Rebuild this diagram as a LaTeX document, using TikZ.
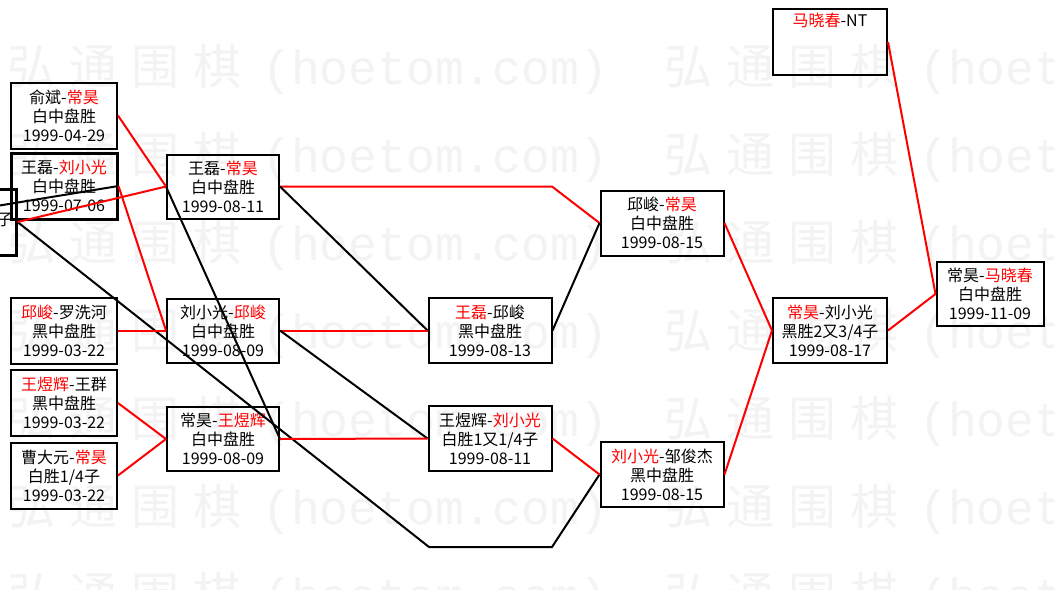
\documentclass[tikz,border=0pt]{standalone}
\usepackage{fontspec}
\setmainfont{Noto Sans CJK SC}
\newfontfamily\wmcjk{Noto Sans CJK SC}
\newfontfamily\wmmono{Liberation Mono}
\usetikzlibrary{positioning}
\definecolor{hot}{HTML}{FF0000}
\definecolor{ink}{HTML}{000000}
\definecolor{wm}{HTML}{F3F3F3}
\newcommand{\win}[1]{\textcolor{hot}{#1}}
\newcommand{\wmrow}{{\wmcjk\makebox[62pt]{弘}\makebox[62pt]{通}\makebox[62pt]{围}\makebox[62pt]{棋}}\hspace{14pt}{\wmmono (hoetom.com)}}
\tikzset{
  box/.style={draw=ink, line width=2pt, align=center, inner sep=0pt,
              font=\fontsize{16}{19}\selectfont, text=ink},
  heavybox/.style={line width=3pt},
  col1/.style={box, minimum width=106pt, minimum height=66pt},
  col2/.style={box, minimum width=112pt, minimum height=64pt},
  col3/.style={box, minimum width=123pt, minimum height=65pt},
  col5/.style={box, minimum width=114pt, minimum height=65pt},
  col6/.style={box, minimum width=107pt, minimum height=64pt},
  ln/.style={draw=ink, line width=2pt},
  lnred/.style={draw=hot, line width=2pt},
  wmark/.style={text=wm, inner sep=0pt, font=\fontsize{48}{48}\selectfont}
}
\begin{document}
\begin{tikzpicture}[x=1pt,y=-1pt]
  \useasboundingbox (0,0) rectangle (1054,589);
  \fill[white] (0,0) rectangle (1054,589);
  \clip (0,0) rectangle (1054,589);

  \foreach \r in {0,...,6}
    \foreach \k in {0,1}
      \node[wmark, anchor=base west] (wm-\r-\k) at (657*\k, 84+88*\r) {\wmrow};

  \node[col1, heavybox, text width=100pt, align=right] (r1x) at (-37,222) {\strut\\子\\\strut};
  \node[col1] (r1a) at (64,115.5) {俞斌-\win{常昊}\\白中盘胜\\1999-04-29};
  \node[col1, heavybox] (r1b) at (64,186) {王磊-\win{刘小光}\\白中盘胜\\1999-07-06};
  \node[col1] (r1c) at (64,330.5) {\win{邱峻}-罗洗河\\黑中盘胜\\1999-03-22};
  \node[col1] (r1d) at (64,403) {\win{王煜辉}-王群\\黑中盘胜\\1999-03-22};
  \node[col1] (r1e) at (64,475.5) {曹大元-\win{常昊}\\白胜1/4子\\1999-03-22};

  \node[col2] (r2a) at (223,186.5) {王磊-\win{常昊}\\白中盘胜\\1999-08-11};
  \node[col2] (r2b) at (223,330.5) {刘小光-\win{邱峻}\\白中盘胜\\1999-08-09};
  \node[col2] (r2c) at (223,439) {常昊-\win{王煜辉}\\白中盘胜\\1999-08-09};

  \node[col3] (r3a) at (490,330.5) {\win{王磊}-邱峻\\黑中盘胜\\1999-08-13};
  \node[col3] (r3b) at (490,438.5) {王煜辉-\win{刘小光}\\白胜1又1/4子\\1999-08-11};

  \node[col3] (r4a) at (662,223) {邱峻-\win{常昊}\\白中盘胜\\1999-08-15};
  \node[col3] (r4b) at (662,474.5) {\win{刘小光}-邹俊杰\\黑中盘胜\\1999-08-15};

  \node[col5] (r5) at (830,330.5) {\win{常昊}-刘小光\\黑胜2又3/4子\\1999-08-17};
  \node[col5, minimum height=66pt] (nt) at (830,42) {\win{马晓春}-NT\\\strut\\\strut};
  \node[col6] (fin) at (990,294) {常昊-\win{马晓春}\\白中盘胜\\1999-11-09};

  \coordinate (edge) at (-40,212);
  \coordinate (bend1) at (552,186.5);
  \coordinate (bend2) at (429,547);
  \coordinate (bend3) at (552,547);

  \draw[ln] (edge) -- (r1b.east);
  \draw[ln] (r1x.east) -- (bend2) -- (bend3) -- (r4b.west);
  \draw[ln] (r2a.west) -- (r2c.east);
  \draw[lnred] (r1a.east) -- (r2a.west);
  \draw[lnred] (r1x.east) -- (r2a.west);
  \draw[lnred] (r1b.east) -- (r2b.west);
  \draw[lnred] (r1c.east) -- (r2b.west);
  \draw[lnred] (r1d.east) -- (r2c.west);
  \draw[lnred] (r1e.east) -- (r2c.west);

  \draw[lnred] (r2a.east) -- (bend1) -- (r4a.west);
  \draw[ln] (r2a.east) -- (r3a.west);
  \draw[lnred] (r2b.east) -- (r3a.west);
  \draw[ln] (r2b.east) -- (r3b.west);
  \draw[lnred] (r2c.east) -- (r3b.west);

  \draw[ln] (r3a.east) -- (r4a.west);
  \draw[lnred] (r3b.east) -- (r4b.west);
  \draw[lnred] (r4a.east) -- (r5.west);
  \draw[lnred] (r4b.east) -- (r5.west);
  \draw[lnred] (r5.east) -- (fin.west);
  \draw[lnred] (nt.east) -- (fin.west);
\end{tikzpicture}
\end{document}
